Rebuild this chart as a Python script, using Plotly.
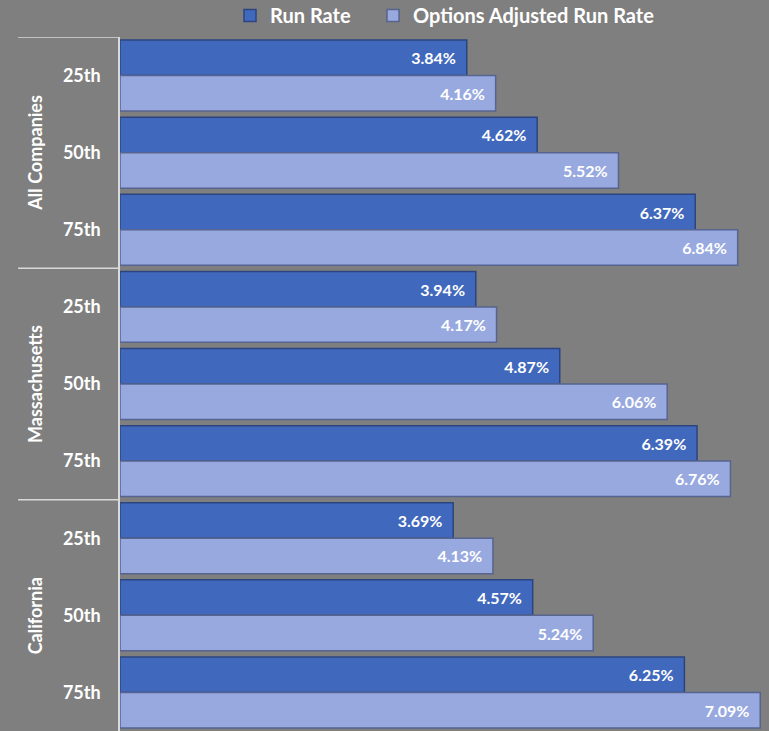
import plotly.graph_objects as go

groups = ["All Companies", "Massachusetts", "California"]
percentiles = ["25th", "50th", "75th"]
run_rate = [3.84, 4.62, 6.37, 3.94, 4.87, 6.39, 3.69, 4.57, 6.25]
options_adj = [4.16, 5.52, 6.84, 4.17, 6.06, 6.76, 4.13, 5.24, 7.09]
series_names = ["Run Rate", "Options Adjusted Run Rate"]

ypos = list(range(len(run_rate)))
ticklabels = percentiles * len(groups)

font_family = "Lato, Open Sans, sans-serif"
pad = "\u00a0\u00a0"

fig = go.Figure()
fig.add_trace(go.Bar(
    y=ypos, x=run_rate, orientation="h", name=series_names[0], legend="legend",
    marker=dict(color="#4068bc", line=dict(color="#2c4580", width=1.5)),
    text=[f"{v:.2f}%{pad}" for v in run_rate], textposition="inside",
    insidetextanchor="end", constraintext="none",
    textfont=dict(color="white", size=16, family=font_family, weight="bold"),
))
fig.add_trace(go.Bar(
    y=ypos, x=options_adj, orientation="h", name=series_names[1], legend="legend2",
    marker=dict(color="#98a9e0", line=dict(color="#56648f", width=1.5)),
    text=[f"{v:.2f}%{pad}" for v in options_adj], textposition="inside",
    insidetextanchor="end", constraintext="none",
    textfont=dict(color="white", size=16, family=font_family, weight="bold"),
))

shapes = []
for i in range(len(groups)):
    yb = i * 3 - 0.5
    shapes.append(dict(type="line", xref="paper", yref="y", x0=-0.157, x1=0,
                       y0=yb, y1=yb, line=dict(color="#d9d9d9", width=1.5)))

annotations = []
for i, g in enumerate(groups):
    annotations.append(dict(text=f"<b>{g}</b>", xref="paper", yref="y",
                            x=-0.131, y=i * 3 + 1, textangle=-90, showarrow=False,
                            font=dict(color="white", size=18, family=font_family),
                            xanchor="center", yanchor="middle"))

legend_common = dict(orientation="h", xanchor="left", y=1.031, yanchor="middle",
                     font=dict(color="white", size=20, family=font_family, weight="bold"),
                     bgcolor="rgba(0,0,0,0)", itemwidth=30)

fig.update_layout(
    width=769, height=731,
    margin=dict(l=120, r=0, t=37, b=0, autoexpand=False),
    paper_bgcolor="#7f7f7f", plot_bgcolor="#7f7f7f",
    barmode="group", bargap=0.08, bargroupgap=0.0,
    shapes=shapes, annotations=annotations,
    legend=dict(x=(230 - 120) / 649, **legend_common),
    legend2=dict(x=(373 - 120) / 649, **legend_common),
    xaxis=dict(range=[0, 7.187], showgrid=False, zeroline=False, showticklabels=False,
               showline=False),
    yaxis=dict(tickvals=ypos, ticktext=[f"<b>{t}</b>" for t in ticklabels],
               range=[8.5, -0.5], showgrid=False, zeroline=False,
               showline=True, linecolor="#d9d9d9", linewidth=1.5,
               tickfont=dict(color="white", size=18, family=font_family),
               ticks="", ticklabelstandoff=14),
    showlegend=True,
)

fig.write_html("out.html")
